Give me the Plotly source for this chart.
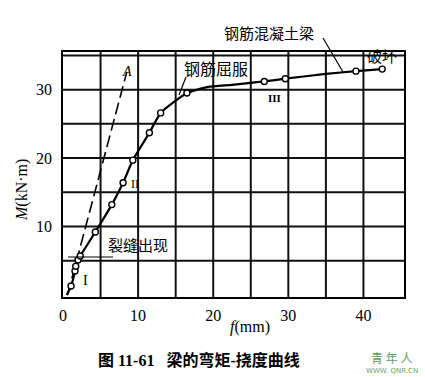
import plotly.graph_objects as go

# ---- data ----
f_curve = [0.5, 1.07, 1.6, 1.7, 2.0, 2.3, 4.3, 6.5, 8.0, 9.3, 11.5, 13.0, 16.5, 19.3, 22.5, 26.8, 29.6, 35.0, 39.0, 42.5]
M_curve = [0.0, 1.3, 3.5, 4.2, 5.1, 5.7, 9.2, 13.2, 16.4, 19.7, 23.7, 26.6, 29.5, 30.4, 30.7, 31.2, 31.6, 32.3, 32.7, 33.0]
f_marks = [1.07, 1.6, 1.7, 2.0, 2.3, 4.3, 6.5, 8.0, 9.3, 11.5, 13.0, 16.5, 26.8, 29.6, 39.0, 42.5]
M_marks = [1.3, 3.5, 4.2, 5.1, 5.7, 9.2, 13.2, 16.4, 19.7, 23.7, 26.6, 29.5, 31.2, 31.6, 32.7, 33.0]
f_A = [0.6, 8.5]
M_A = [0.0, 32.6]
x_grid = [5, 10, 15, 20, 25, 30, 35, 40]
x_ticks = [0, 10, 20, 30, 40]
y_grid = [5, 10, 15, 20, 25, 30, 35]
y_ticks = [10, 20, 30]
x_range = [0, 45.4]
y_range = [-0.3, 35.5]

W, H = 425, 377
L, R, T, B = 63, 404, 52, 297
SERIF = "Liberation Serif, Times New Roman, serif"
CJK = "Liberation Serif, Noto Sans CJK SC, sans-serif"

def px(x):
    return (x - L) / (R - L)

def py(y):
    return (B - y) / (B - T)

fig = go.Figure()
for g in x_grid:
    fig.add_trace(go.Scatter(x=[g, g], y=y_range, mode="lines",
                             line=dict(color="#111111", width=2),
                             hoverinfo="skip", showlegend=False))
for g in y_grid:
    fig.add_trace(go.Scatter(x=x_range, y=[g, g], mode="lines",
                             line=dict(color="#111111", width=2),
                             hoverinfo="skip", showlegend=False))
fig.add_trace(go.Scatter(x=f_A, y=M_A, mode="lines",
                         line=dict(color="black", width=1.6, dash="12px,5px"),
                         hoverinfo="skip", showlegend=False))
fig.add_trace(go.Scatter(x=f_curve, y=M_curve, mode="lines",
                         line=dict(color="black", width=2.2, shape="spline", smoothing=0.5),
                         hoverinfo="skip", showlegend=False))
fig.add_trace(go.Scatter(x=f_marks, y=M_marks, mode="markers",
                         marker=dict(symbol="circle", size=6, color="white",
                                     line=dict(color="black", width=1.4)),
                         hoverinfo="skip", showlegend=False))

ann = []
def text(x, y, s, size=15, font=CJK, color="black", xanchor="center"):
    ann.append(dict(xref="paper", yref="paper", x=px(x), y=py(y), text=s,
                    showarrow=False, xanchor=xanchor, yanchor="middle",
                    font=dict(family=font, size=size, color=color)))

text(269, 34, "钢筋混凝土梁", 15)
text(216, 69, "钢筋屈服", 16)
text(382, 57, "破坏", 15)
text(138, 246, "裂缝出现", 15)
text(127, 71, "<i>A</i>", 14, SERIF)
text(85, 280, "I", 14, SERIF)
text(135, 184, "II", 12, SERIF)
text(274, 98, "<b>III</b>", 11, SERIF)
text(250, 327, "<i>f</i>(mm)", 16, SERIF)
text(199, 360, "<b>图 11-61   梁的弯矩-挠度曲线</b>", 16)
text(391, 357, "青 年 人", 12, "Noto Sans CJK SC", "#5f9f5f")
text(392, 371, "WWW. QNR.CN", 7, "DejaVu Sans", "#6aa66a")
ann.append(dict(xref="paper", yref="paper", x=px(22), y=py(190),
                text="<i>M</i>(kN·m)", textangle=-90, showarrow=False,
                xanchor="center", yanchor="middle",
                font=dict(family=SERIF, size=16, color="black")))

shapes = []
def seg(x0, y0, x1, y1, w=1.2):
    shapes.append(dict(type="line", xref="paper", yref="paper",
                       x0=px(x0), y0=py(y0), x1=px(x1), y1=py(y1),
                       line=dict(color="black", width=w)))

seg(323, 38, 343, 72)
seg(186, 77, 179, 95)
seg(68, 257, 113, 257)

fig.update_layout(
    width=W, height=H,
    margin=dict(l=L, r=W - R, t=T, b=H - B),
    paper_bgcolor="white", plot_bgcolor="white",
    annotations=ann, shapes=shapes,
    xaxis=dict(range=x_range, tickvals=x_ticks, ticktext=[str(v) for v in x_ticks],
               showgrid=False, zeroline=False, showline=True, linecolor="black",
               linewidth=1.5, mirror=True, ticks="", ticklabelstandoff=3,
               tickfont=dict(family=SERIF, size=16, color="black")),
    yaxis=dict(range=y_range, tickvals=y_ticks, ticktext=[str(v) for v in y_ticks],
               showgrid=False, zeroline=False, showline=True, linecolor="black",
               linewidth=1.5, mirror=True, ticks="", ticklabelstandoff=6,
               tickfont=dict(family=SERIF, size=16, color="black")),
)

fig.write_html("out.html", config={"displayModeBar": False},
               post_script="document.body.style.margin='0';document.body.style.overflow='hidden';")
